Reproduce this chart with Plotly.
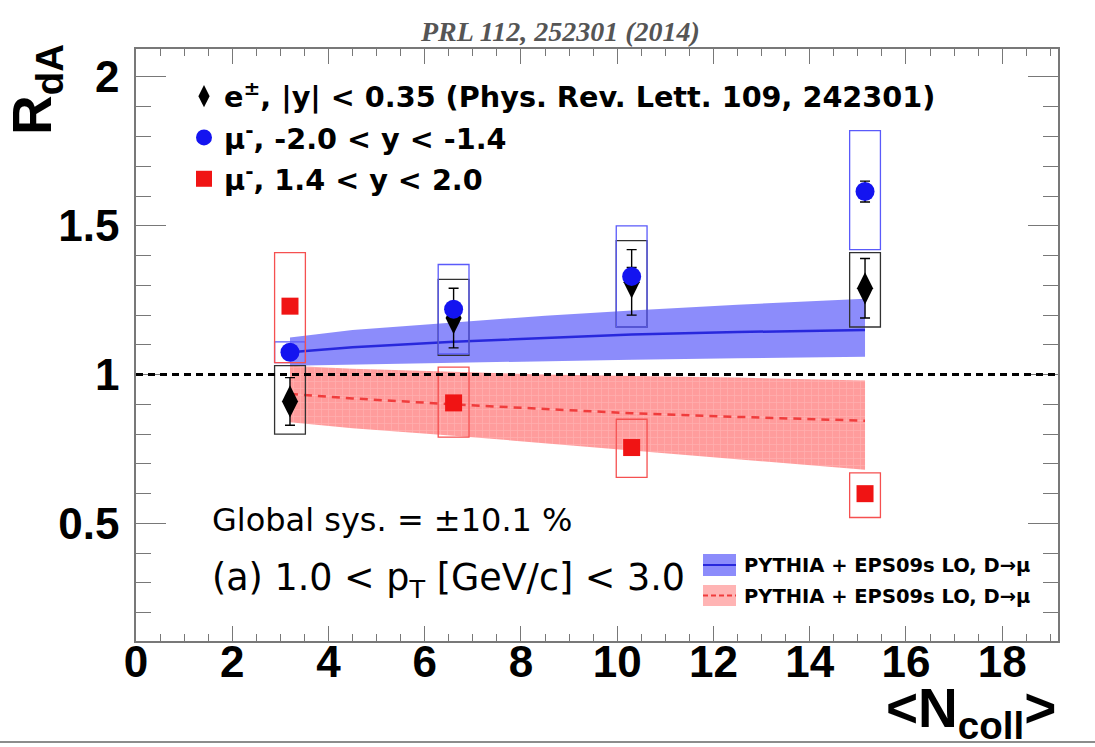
import plotly.graph_objects as go

# ---------------- data ----------------
ncoll = [3.2, 6.6, 10.3, 15.15]

# e+-, |y|<0.35
e_y = [0.91, 1.19, 1.31, 1.29]
e_stat = [0.08, 0.10, 0.11, 0.10]
e_sys_lo = [0.80, 1.065, 1.16, 1.16]
e_sys_hi = [1.03, 1.32, 1.45, 1.41]

# mu-, -2.0<y<-1.4
mb_y = [1.075, 1.22, 1.33, 1.615]
mb_stat = [0.01, 0.02, 0.03, 0.035]
mb_sys_lo = [1.04, 1.07, 1.16, 1.42]
mb_sys_hi = [1.11, 1.37, 1.50, 1.82]

# mu-, 1.4<y<2.0
mf_y = [1.23, 0.905, 0.755, 0.60]
mf_stat = [0.02, 0.015, 0.015, 0.015]
mf_sys_lo = [1.04, 0.79, 0.655, 0.52]
mf_sys_hi = [1.41, 1.025, 0.85, 0.67]

# PYTHIA + EPS09s LO bands
model_x = [3.2, 4.5, 6.6, 8.5, 10.3, 12.5, 15.15]
bwd_mid = [1.075, 1.092, 1.11, 1.123, 1.135, 1.143, 1.15]
bwd_hi = [1.125, 1.15, 1.175, 1.198, 1.215, 1.235, 1.255]
bwd_lo = [1.03, 1.034, 1.04, 1.045, 1.05, 1.055, 1.06]
fwd_mid = [0.935, 0.92, 0.90, 0.885, 0.87, 0.858, 0.845]
fwd_hi = [1.03, 1.02, 1.01, 1.0, 0.995, 0.99, 0.98]
fwd_lo = [0.84, 0.82, 0.795, 0.77, 0.745, 0.715, 0.68]

reference_level = 1.0
x_ticks = [0, 2, 4, 6, 8, 10, 12, 14, 16, 18]
y_ticks = [0.5, 1.0, 1.5, 2.0]
y_tick_text = ["0.5", "1", "1.5", "2"]

# ---------------- layout helpers ----------------
W, H = 1095, 747
L, R, T, B = 136, 1058, 49, 641


def px(p):
    return (p - L) / (R - L)


def py(p):
    return (B - p) / (B - T)


BOX_HW = 0.32
BLUE_FILL = "rgba(95,95,250,0.72)"
RED_BG = "rgba(255,95,95,0.62)"
RED_FG = "rgba(255,225,225,0.55)"
RED_PATTERN = dict(shape="+", size=7, solidity=0.2, fgcolor=RED_FG, bgcolor=RED_BG)

fig = go.Figure()

# red band (forward)
fig.add_trace(go.Scatter(x=model_x, y=fwd_lo, mode="lines", line=dict(width=0),
                         showlegend=False, hoverinfo="skip"))
fig.add_trace(go.Scatter(x=model_x, y=fwd_mid, mode="lines", fill="tonexty",
                         fillcolor=RED_BG, fillpattern=RED_PATTERN,
                         line=dict(color="rgb(240,60,60)", width=2.5, dash="8px,6px"),
                         showlegend=False, hoverinfo="skip"))
fig.add_trace(go.Scatter(x=model_x, y=fwd_hi, mode="lines", fill="tonexty",
                         fillcolor=RED_BG, fillpattern=RED_PATTERN,
                         line=dict(width=0), showlegend=False, hoverinfo="skip"))

# blue band (backward)
fig.add_trace(go.Scatter(x=model_x, y=bwd_lo, mode="lines", line=dict(width=0),
                         showlegend=False, hoverinfo="skip"))
fig.add_trace(go.Scatter(x=model_x, y=bwd_mid, mode="lines", fill="tonexty",
                         fillcolor=BLUE_FILL,
                         line=dict(color="rgb(40,40,220)", width=2.5),
                         showlegend=False, hoverinfo="skip"))
fig.add_trace(go.Scatter(x=model_x, y=bwd_hi, mode="lines", fill="tonexty",
                         fillcolor=BLUE_FILL, line=dict(width=0),
                         showlegend=False, hoverinfo="skip"))

err_style = dict(type="data", color="black", thickness=1.4, width=5, visible=True)

fig.add_trace(go.Scatter(
    x=ncoll, y=e_y, mode="markers",
    marker=dict(symbol="diamond-tall", size=23, color="black"),
    error_y=dict(array=e_stat, **err_style),
    name="e<sup>±</sup>, |y| &lt; 0.35 (Phys. Rev. Lett. 109, 242301)",
    legendgroup="a"))
fig.add_trace(go.Scatter(
    x=ncoll, y=mb_y, mode="markers",
    marker=dict(symbol="circle", size=19, color="rgb(20,20,240)"),
    error_y=dict(array=mb_stat, **err_style),
    name="μ<sup>-</sup>, -2.0 &lt; y &lt; -1.4", legendgroup="b"))
fig.add_trace(go.Scatter(
    x=ncoll, y=mf_y, mode="markers",
    marker=dict(symbol="square", size=17, color="rgb(240,20,20)"),
    error_y=dict(array=mf_stat, **err_style),
    name="μ<sup>-</sup>, 1.4 &lt; y &lt; 2.0", legendgroup="c"))

shapes = []
# systematic boxes
for lo_arr, hi_arr, col in [(e_sys_lo, e_sys_hi, "rgb(50,50,50)"),
                            (mb_sys_lo, mb_sys_hi, "rgb(90,90,250)"),
                            (mf_sys_lo, mf_sys_hi, "rgb(245,80,80)")]:
    for xc, lo, hi in zip(ncoll, lo_arr, hi_arr):
        shapes.append(dict(type="rect", xref="x", yref="y",
                           x0=xc - BOX_HW, x1=xc + BOX_HW, y0=lo, y1=hi,
                           line=dict(color=col, width=1.3), fillcolor="rgba(0,0,0,0)",
                           layer="above"))

# reference line at 1
shapes.append(dict(type="line", xref="paper", yref="y", x0=0, x1=1,
                   y0=reference_level, y1=reference_level,
                   line=dict(color="black", width=3, dash="7px,5px"), layer="above"))

# bottom legend patches
shapes.append(dict(type="rect", xref="paper", yref="paper",
                   x0=px(703), x1=px(736), y0=py(576), y1=py(554),
                   fillcolor=BLUE_FILL, line=dict(width=0)))
shapes.append(dict(type="line", xref="paper", yref="paper",
                   x0=px(703), x1=px(736), y0=py(565), y1=py(565),
                   line=dict(color="rgb(40,40,220)", width=2)))
shapes.append(dict(type="rect", xref="paper", yref="paper",
                   x0=px(703), x1=px(736), y0=py(606), y1=py(585),
                   fillcolor="rgba(255,130,130,0.6)", line=dict(width=0)))
shapes.append(dict(type="line", xref="paper", yref="paper",
                   x0=px(703), x1=px(736), y0=py(595.5), y1=py(595.5),
                   line=dict(color="rgb(240,60,60)", width=2, dash="5px,3px")))
# page edge line at bottom
shapes.append(dict(type="line", xref="paper", yref="paper",
                   x0=px(0), x1=px(1095), y0=py(742), y1=py(742),
                   line=dict(color="rgb(140,140,140)", width=2)))

annotations = [
    dict(text="<b><i>PRL 112, 252301 (2014)</i></b>", xref="paper", yref="paper",
         x=px(560), y=py(32), xanchor="center", yanchor="middle", showarrow=False,
         font=dict(family="Liberation Serif", size=28, color="rgb(85,85,85)")),
    dict(text="Global sys. = ±10.1 %", xref="paper", yref="paper",
         x=px(210), y=py(520), xanchor="left", yanchor="middle", showarrow=False,
         font=dict(family="DejaVu Sans", size=32, color="black")),
    dict(text="(a) 1.0 &lt; p<sub>T</sub> [GeV/c] &lt; 3.0", xref="paper", yref="paper",
         x=px(210), y=py(580), xanchor="left", yanchor="middle", showarrow=False,
         font=dict(family="DejaVu Sans", size=36.5, color="black")),
    dict(text="<b>PYTHIA + EPS09s LO, D→μ</b>", xref="paper", yref="paper",
         x=px(742), y=py(565), xanchor="left", yanchor="middle", showarrow=False,
         font=dict(family="DejaVu Sans", size=19.5, color="black")),
    dict(text="<b>PYTHIA + EPS09s LO, D→μ</b>", xref="paper", yref="paper",
         x=px(742), y=py(596), xanchor="left", yanchor="middle", showarrow=False,
         font=dict(family="DejaVu Sans", size=19.5, color="black")),
    dict(text="<b>R<sub>dA</sub></b>", xref="paper", yref="paper", textangle=-90,
         x=px(36), y=py(90), xanchor="center", yanchor="middle", showarrow=False,
         font=dict(family="Liberation Sans", size=55, color="black")),
    dict(text="<b>&lt;N<sub>coll</sub>&gt;</b>", xref="paper", yref="paper",
         x=px(1058), y=py(712), xanchor="right", yanchor="middle", showarrow=False,
         font=dict(family="Liberation Sans", size=55, color="black")),
]

axis_common = dict(showline=True, linecolor="rgb(120,120,120)", linewidth=1.5,
                   mirror="ticks", ticks="inside", tickcolor="rgb(120,120,120)",
                   tickwidth=1.3, showgrid=False, zeroline=False,
                   tickfont=dict(family="Liberation Sans", size=44, color="black",
                                 weight="bold"))

fig.update_layout(
    width=W, height=H,
    margin=dict(l=L, r=W - R, t=T, b=H - B),
    paper_bgcolor="white", plot_bgcolor="white",
    xaxis=dict(range=[0, 19.16], tickvals=x_ticks, ticklen=15, ticklabelstandoff=-19,
               minor=dict(dtick=0.5, tick0=0, ticks="inside", ticklen=7,
                          tickcolor="rgb(120,120,120)", tickwidth=1.2),
               **axis_common),
    yaxis=dict(range=[0.105, 2.094], tickvals=y_ticks, ticktext=y_tick_text,
               ticklen=30, ticklabelstandoff=6,
               minor=dict(dtick=0.1, tick0=0, ticks="inside", ticklen=15,
                          tickcolor="rgb(120,120,120)", tickwidth=1.2),
               **axis_common),
    legend=dict(x=px(184), y=py(71), xanchor="left", yanchor="top",
                bgcolor="rgba(0,0,0,0)", traceorder="grouped", tracegroupgap=1,
                font=dict(family="DejaVu Sans", size=28.7, color="black", weight="bold"),
                itemsizing="trace"),
    shapes=shapes, annotations=annotations,
    showlegend=True,
)

fig.write_html("out.html")
